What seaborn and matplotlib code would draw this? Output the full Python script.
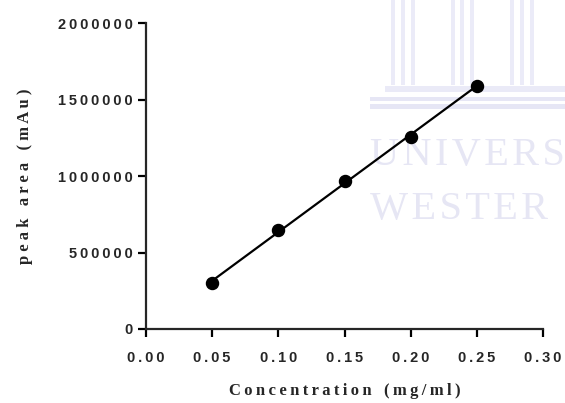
import matplotlib
matplotlib.use("Agg")
import matplotlib.pyplot as plt
from matplotlib.patches import Rectangle
import seaborn as sns
import pandas as pd

concentration = [0.05, 0.10, 0.15, 0.20, 0.25]
peak_area = [300000, 650000, 965000, 1255000, 1590000]
x_ticks = [0.00, 0.05, 0.10, 0.15, 0.20, 0.25, 0.30]
y_ticks = [0, 500000, 1000000, 1500000, 2000000]

TS = "\u2009"
HS = "\u200a"

def spaced(s, sep=TS):
    return sep.join(s)

sns.set_theme(style="ticks")
plt.rcParams['font.family'] = ['Liberation Sans', 'DejaVu Sans']

df = pd.DataFrame({"conc": concentration, "area": peak_area})

W, H = 565, 403
fig = plt.figure(figsize=(W / 100, H / 100), dpi=100)
ax = fig.add_axes([146 / W, 1 - 329 / H, (543 - 146) / W, (329 - 23) / H])
ax.set_zorder(5)

# faint watermark (background logo of the source document)
wm_color = "#e6e6f4"
serif = ['Liberation Serif', 'DejaVu Serif']

def px_rect(x0, y0, x1, y1, color):
    fig.add_artist(Rectangle((x0 / W, 1 - y1 / H), (x1 - x0) / W, (y1 - y0) / H,
                             transform=fig.transFigure, facecolor=color,
                             edgecolor='none', zorder=0))

for px in [393, 403, 413, 453, 462, 472, 512, 522, 532]:
    px_rect(px - 2, 0, px + 2, 85, "#ebebf8")
px_rect(385, 86, 565, 92, "#eaeaf7")
px_rect(370, 97, 565, 101, "#e6e6f5")
px_rect(370, 104, 565, 109, "#e6e6f5")

fig.text(370 / W, 1 - 155 / H, spaced("UNIVERS", HS), fontsize=29, color=wm_color,
         family=serif, va='center', ha='left', zorder=0)
fig.text(370 / W, 1 - 210 / H, spaced("WESTER", HS), fontsize=29, color=wm_color,
         family=serif, va='center', ha='left', zorder=0)

sns.regplot(data=df, x="conc", y="area", ax=ax, ci=None, color="black",
            marker="o", scatter_kws={"s": 75, "zorder": 3, "alpha": 1},
            line_kws={"lw": 1.6, "zorder": 2})

ax.set_xlim(0, 0.30)
ax.set_ylim(0, 2000000)
ax.set_xticks(x_ticks)
ax.set_yticks(y_ticks)
ax.set_xticklabels([spaced(f"{v:.2f}") for v in x_ticks])
ax.set_yticklabels([spaced(f"{v:d}") for v in y_ticks])
for lab in ax.get_xticklabels() + ax.get_yticklabels():
    lab.set_fontweight("bold")
    lab.set_fontsize(10.5)

sns.despine(ax=ax)
ax.spines['left'].set_linewidth(1.6)
ax.spines['bottom'].set_linewidth(1.6)
ax.tick_params(axis='both', length=5.5, width=1.6, color='black', direction='out')
ax.tick_params(axis='x', pad=10)
ax.tick_params(axis='y', pad=4)
ax.patch.set_alpha(0)

ax.set_xlabel(TS.join("Concentration") + "   " + TS.join("(mg/ml)"),
              fontsize=12, fontweight='bold', family=serif, labelpad=13)
ax.set_ylabel(" ".join("peak") + "   " + " ".join("area") + "   " + " ".join("(mAu)"),
              fontsize=12, fontweight='bold', family=serif, labelpad=18)

fig.savefig("out.png", dpi=100)
